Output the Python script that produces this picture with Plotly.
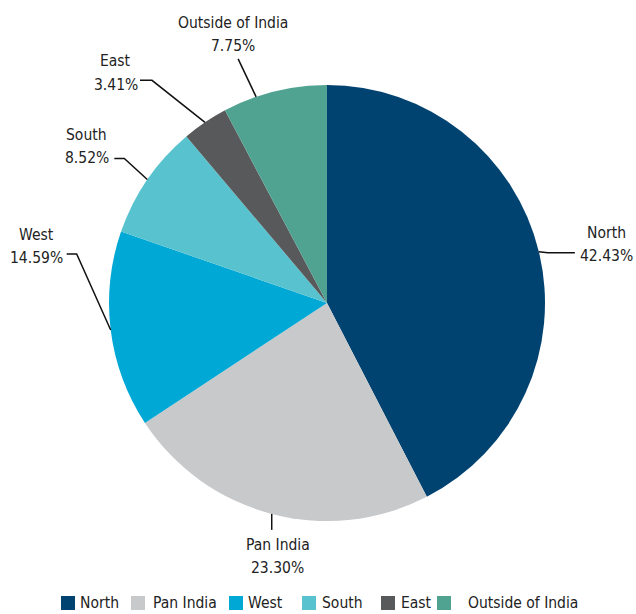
import math
import plotly.graph_objects as go

labels = ["North", "Pan India", "West", "South", "East", "Outside of India"]
values = [42.43, 23.30, 14.59, 8.52, 3.41, 7.75]
colors = ["#004270", "#c8c9cb", "#00a8d5", "#58c3cf", "#58595b", "#50a291"]

W, H = 636, 614
FONT = "DejaVu Sans Condensed, Liberation Sans Narrow, sans-serif"
FS = 15.5
TXT = "#222222"

# pie placement (pixels)
CX, CY, R = 327, 303, 218

def px(x):
    return x / W

def py(y):
    return 1 - y / H

fig = go.Figure(go.Pie(
    labels=labels, values=values, sort=False, direction="clockwise", rotation=0,
    marker=dict(colors=colors, line=dict(width=0)),
    textinfo="none", hoverinfo="label+percent", showlegend=False,
    domain=dict(x=[px(CX - R), px(CX + R)], y=[py(CY + R), py(CY - R)]),
))

# leader-line style per slice:
# attach fraction within slice, elbow offset, end offset, label-centre offset (from end)
style = {
    "North":            (0.50, (9, 1),     (36, 1),     (32, -20)),
    "Pan India":        (0.50, (0, 3),     (0, 16),     (6, 15)),
    "West":             (0.50, (-34, -76), (-44, -76),  (-30, -19)),
    "South":            (0.50, (-23, -21), (-33, -21),  (-27.5, -24)),
    "East":             (0.50, (-53, -42), (-65, -42),  (-24, -19)),
    "Outside of India": (0.32, (-18, -38), (-18, -38),  (-5, -36)),
}
LINE_GAP = 23.5

total = sum(values)
cum = 0.0
shapes, annotations = [], []
for lab, v in zip(labels, values):
    frac, (edx, edy), (ndx, ndy), (ldx, ldy) = style[lab]
    ang = (cum + v * frac) / total * 2 * math.pi
    cum += v
    ex = CX + R * math.sin(ang)
    ey = CY - R * math.cos(ang)
    bx, by = ex + edx, ey + edy
    nx, ny = ex + ndx, ey + ndy
    shapes.append(dict(
        type="path", xref="paper", yref="paper",
        path=f"M {px(ex)} {py(ey)} L {px(bx)} {py(by)} L {px(nx)} {py(ny)}",
        line=dict(color="#111111", width=1.5),
    ))
    lx, ly = nx + ldx, ny + ldy
    for i, t in enumerate([lab, f"{v:.2f}%"]):
        annotations.append(dict(
            text=t, x=px(lx), y=py(ly + i * LINE_GAP), xref="paper", yref="paper",
            xanchor="center", yanchor="middle", showarrow=False,
            font=dict(family=FONT, size=FS, color=TXT),
        ))

# legend (drawn manually: square swatch + text)
LEGEND_X = [61, 131, 229, 302, 381, 437]
LEGEND_GAP = [3, 6, 3, 4, 4, 15]
LEGEND_Y = 603
SW = 14
for lab, col, lxp, g in zip(labels, colors, LEGEND_X, LEGEND_GAP):
    shapes.append(dict(
        type="rect", xref="paper", yref="paper",
        x0=px(lxp), x1=px(lxp + SW), y0=py(LEGEND_Y + SW / 2), y1=py(LEGEND_Y - SW / 2),
        fillcolor=col, line=dict(width=0),
    ))
    annotations.append(dict(
        text=lab, x=px(lxp + SW + g), y=py(LEGEND_Y), xref="paper", yref="paper",
        xanchor="left", yanchor="middle", showarrow=False,
        font=dict(family=FONT, size=FS, color=TXT),
    ))

fig.update_layout(
    width=W, height=H,
    margin=dict(l=0, r=0, t=0, b=0),
    paper_bgcolor="white", plot_bgcolor="white",
    font=dict(family=FONT, size=FS, color=TXT),
    shapes=shapes, annotations=annotations,
    showlegend=False,
)

fig.write_html(
    "out.html",
    config={"displayModeBar": False},
    post_script="document.body.style.margin='0';document.body.style.overflow='hidden';",
)
